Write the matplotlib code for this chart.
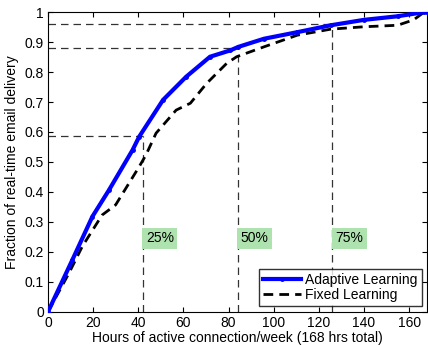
import matplotlib
matplotlib.use("Agg")
import matplotlib.pyplot as plt

plt.rcParams['font.family'] = ['Liberation Sans', 'DejaVu Sans']

# Adaptive learning (blue)
adaptive_x = [0, 10.8, 19.7, 27.1, 37.5, 40.4, 51.0, 61.2, 71.8, 80.7, 84.4,
              95.7, 110.5, 125.3, 140, 154.9, 166.8, 168]
adaptive_y = [0, 0.173, 0.318, 0.407, 0.54, 0.584, 0.707, 0.784, 0.851, 0.872, 0.884,
              0.911, 0.933, 0.956, 0.974, 0.986, 1.0, 1.0]

# Fixed learning (black dashed)
fixed_x = [0, 9.3, 15.2, 24, 30, 40.4, 43.4, 47.9, 56.8, 63.1, 70.3, 79.2, 83.6,
           95.7, 110.5, 125.3, 140, 154.9, 162, 166.7]
fixed_y = [0, 0.129, 0.218, 0.323, 0.357, 0.484, 0.523, 0.596, 0.673, 0.696, 0.762,
           0.829, 0.851, 0.884, 0.923, 0.943, 0.951, 0.956, 0.974, 1.0]

# Quartile reference lines
quart_hours = [42, 84, 126]
quart_fracs = [0.585, 0.88, 0.96]
quart_labels = ["25%", "50%", "75%"]
label_y = 0.245

xticks = [0, 20, 40, 60, 80, 100, 120, 140, 160]
yticks = [0, 0.1, 0.2, 0.3, 0.4, 0.5, 0.6, 0.7, 0.8, 0.9, 1.0]
ytick_labels = ["0", "0.1", "0.2", "0.3", "0.4", "0.5", "0.6", "0.7", "0.8", "0.9", "1"]

fig = plt.figure(figsize=(4.28, 3.45), dpi=100)
ax = fig.add_axes([0.112, 0.096, 0.886, 0.869])

for h, f, lab in zip(quart_hours, quart_fracs, quart_labels):
    ax.plot([0, h], [f, f], color='#333333', lw=0.9, dashes=(6, 4), zorder=1)
    ax.plot([h, h], [0, f], color='#333333', lw=0.9, dashes=(6, 4), zorder=1)
    ax.text(h + 1.4, label_y, lab, fontsize=10, va='center', ha='left',
            bbox=dict(facecolor='#aee2ae', edgecolor='none', pad=2.5), zorder=2)

ax.plot(adaptive_x, adaptive_y, color='#0000ff', lw=3.0, marker='.', markersize=5,
        label='Adaptive Learning', zorder=4)
ax.plot(fixed_x, fixed_y, color='black', lw=2.0, dashes=(3.5, 2.2),
        label='Fixed Learning', zorder=3)

ax.set_xlim(0, 168)
ax.set_ylim(0, 1)
ax.set_xticks(xticks)
ax.set_yticks(yticks)
ax.set_yticklabels(ytick_labels)
ax.tick_params(direction='in', top=True, right=True, labelsize=10, length=3.5, pad=3)
ax.set_xlabel('Hours of active connection/week (168 hrs total)', fontsize=10, labelpad=1)
ax.set_ylabel('Fraction of real-time email delivery', fontsize=10, labelpad=4)

leg = ax.legend(loc='lower right', fontsize=10, frameon=True, fancybox=False,
                borderpad=0.3, handlelength=2.7, handletextpad=0.3, labelspacing=0.1,
                borderaxespad=0.4)
leg.get_frame().set_edgecolor('black')
leg.get_frame().set_linewidth(1.0)

fig.savefig('out.png', dpi=100)
